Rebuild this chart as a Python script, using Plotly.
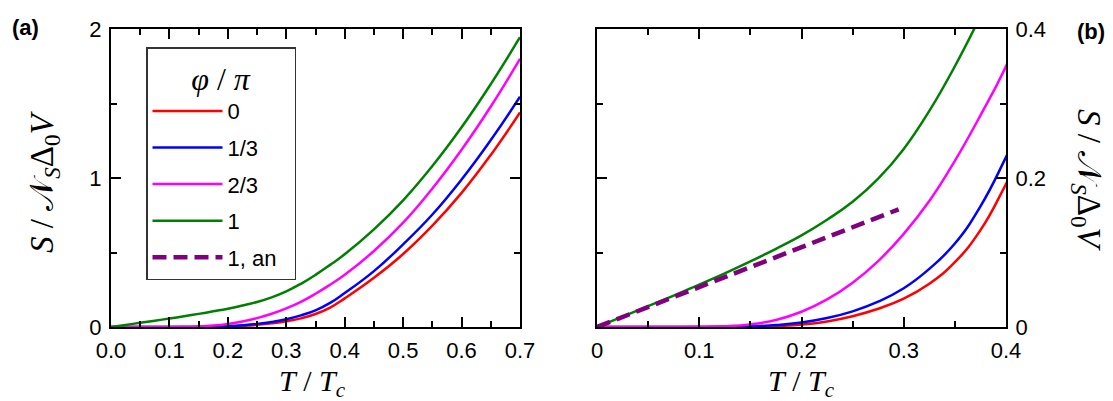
import plotly.graph_objects as go

# reduced temperature T/Tc
T = [0.0, 0.025, 0.05, 0.075, 0.1, 0.125, 0.15, 0.175, 0.2, 0.225, 0.25,
     0.275, 0.3, 0.325, 0.35, 0.375, 0.4, 0.45, 0.5, 0.55, 0.6, 0.65, 0.7]

# entropy S / (N_S Delta_0 V) for each phase phi/pi
S_0 = [0, 0, 0, 0, 0, 0, 0.0002, 0.0011, 0.0033, 0.0075, 0.0145,
       0.0245, 0.038, 0.058, 0.087, 0.130, 0.192, 0.33, 0.49, 0.68, 0.90, 1.155, 1.44]
S_13 = [0, 0, 0, 0, 0, 0.0002, 0.0009, 0.0026, 0.006, 0.012, 0.021,
        0.034, 0.052, 0.078, 0.112, 0.162, 0.228, 0.375, 0.555, 0.755, 0.99, 1.255, 1.545]
S_23 = [0, 0, 0, 0, 0.0002, 0.001, 0.0035, 0.0095, 0.0205, 0.037, 0.0595,
        0.0885, 0.125, 0.169, 0.223, 0.284, 0.350, 0.51, 0.70, 0.93, 1.19, 1.48, 1.80]
S_1 = [0, 0.014, 0.028, 0.042, 0.057, 0.072, 0.088, 0.105, 0.123, 0.144, 0.168,
       0.199, 0.239, 0.290, 0.350, 0.417, 0.488, 0.655, 0.85, 1.08, 1.34, 1.63, 1.945]

# analytic low-T result for phi = pi
T_an = [0.0, 0.295]
S_an = [0.0, 0.158]

curves = [
    ("0", S_0, "#ff0000"),
    ("1/3", S_13, "#0000ff"),
    ("2/3", S_23, "#ff00ff"),
    ("1", S_1, "#008000"),
]

SERIF = "Liberation Serif"
SANS = "Liberation Sans"
W, H = 1113, 401

fig = go.Figure()

for name, s, col in curves:
    for xa, ya, leg in [("x", "y", True), ("x2", "y2", False)]:
        fig.add_trace(go.Scatter(
            x=T, y=s, mode="lines", name=name, xaxis=xa, yaxis=ya,
            line=dict(color=col, width=2.5, shape="spline", smoothing=1.3),
            showlegend=leg, legendgroup=name,
        ))

an_line = dict(color="#800080", width=4.5, dash="14px,7px")
fig.add_trace(go.Scatter(
    x=T_an, y=S_an, mode="lines", name="1, an", xaxis="x2", yaxis="y2",
    line=an_line, showlegend=False, legendgroup="an",
))
# legend key for the analytic curve (it is only drawn in panel b)
fig.add_trace(go.Scatter(
    x=[None], y=[None], mode="lines", name="1, an\u00a0\u00a0", xaxis="x", yaxis="y",
    line=an_line, legendgroup="an",
))

axis_common = dict(
    showline=True, linecolor="black", linewidth=2, mirror="allticks",
    ticks="inside", ticklen=10, tickwidth=2, tickcolor="black",
    showgrid=False, zeroline=False, automargin=False,
    tickfont=dict(family=SANS, size=22, color="black"),
    ticklabelstandoff=3,
)


def minor(step):
    return dict(dtick=step, ticklen=6, tickwidth=2, tickcolor="black", ticks="inside")


fig.update_layout(
    width=W, height=H,
    margin=dict(l=0, r=0, t=0, b=0),
    paper_bgcolor="white", plot_bgcolor="white",
    showlegend=True,
    xaxis=dict(axis_common, domain=[111 / W, 520 / W], range=[0, 0.7],
               tickvals=[0, 0.1, 0.2, 0.3, 0.4, 0.5, 0.6, 0.7],
               ticktext=["0.0", "0.1", "0.2", "0.3", "0.4", "0.5", "0.6", "0.7"],
               minor=minor(0.05)),
    yaxis=dict(axis_common, domain=[74 / H, 372 / H], range=[0, 2],
               tickvals=[0, 1, 2], ticktext=["0", "1", "2"], minor=minor(0.5)),
    xaxis2=dict(axis_common, domain=[597 / W, 1006 / W], range=[0, 0.4], anchor="y2",
                tickvals=[0, 0.1, 0.2, 0.3, 0.4],
                ticktext=["0", "0.1", "0.2", "0.3", "0.4"], minor=minor(0.05)),
    yaxis2=dict(axis_common, domain=[74 / H, 372 / H], range=[0, 0.4], anchor="x2",
                side="right", tickvals=[0, 0.2, 0.4], ticktext=["0", "0.2", "0.4"],
                minor=minor(0.1)),
    legend=dict(
        x=146 / W, y=1 - 47 / H, xanchor="left", yanchor="top",
        bgcolor="white", bordercolor="#333333", borderwidth=1.5,
        font=dict(family=SANS, size=22, color="black"),
        title=dict(text="<i>φ</i> / <i>π</i>", side="top center",
                   font=dict(family=SERIF, size=32, color="black")),
        itemwidth=70, tracegroupgap=5, traceorder="grouped",
    ),
)

# texts placed in pixels from the top-left corner of the picture
xtitle = "<i>T</i> / <i>T</i><sub><i>c</i></sub>"
ytitle = "<i>S</i> / 𝒩<sub><i>S</i></sub>Δ<sub>0</sub><i>V</i>"
texts = [
    ("<b>(a)</b>", 10, 13, 0, SANS, 22, "left", "top"),
    ("<b>(b)</b>", 1075, 17, 0, SANS, 22, "left", "top"),
    (xtitle, 312, 383, 0, SERIF, 30, "center", "middle"),
    (xtitle, 801, 383, 0, SERIF, 30, "center", "middle"),
    (ytitle, 45, 182, -90, SERIF, 33, "center", "middle"),
    (ytitle, 1087, 180, 90, SERIF, 33, "center", "middle"),
]
for txt, px, py, ang, fam, size, xa, ya in texts:
    fig.add_annotation(text=txt, x=px / W, y=1 - py / H, xref="paper", yref="paper",
                       showarrow=False, textangle=ang, xanchor=xa, yanchor=ya,
                       font=dict(family=fam, size=size, color="black"))

# the page's default body margin would push the figure off the window
fig.write_html("out.html", config={"displayModeBar": False},
               post_script="document.body.style.margin='0';document.body.style.overflow='hidden';")
